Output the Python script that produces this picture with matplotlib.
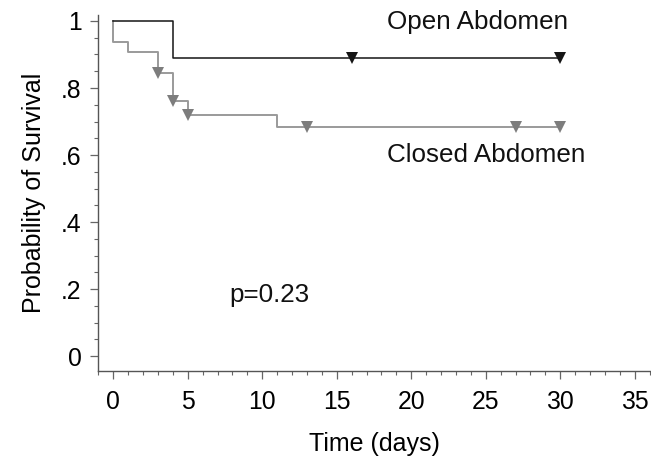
import matplotlib
matplotlib.use("Agg")
import matplotlib.pyplot as plt
from matplotlib.ticker import MultipleLocator, FixedLocator

plt.rcParams['font.family'] = ['Liberation Sans', 'DejaVu Sans']

# Kaplan-Meier step data
open_times = [0, 4, 30]
open_surv = [1.0, 0.889, 0.889]
open_cens_t = [16, 30]
open_cens_s = [0.889, 0.889]

closed_times = [0, 0, 1, 3, 4, 5, 11, 30]
closed_surv = [1.0, 0.938, 0.906, 0.844, 0.760, 0.720, 0.685, 0.685]
closed_cens_t = [3, 4, 5, 13, 27, 30]
closed_cens_s = [0.844, 0.760, 0.720, 0.685, 0.685, 0.685]

x_ticks = [0, 5, 10, 15, 20, 25, 30, 35]
y_ticks = [0, 0.2, 0.4, 0.6, 0.8, 1.0]
y_labels = ["0", ".2", ".4", ".6", ".8", "1"]

fig = plt.figure(figsize=(6.51, 4.63), dpi=100)
ax = fig.add_axes([0.151, 0.199, 0.847, 0.768])

closed_line = "#9a9a9a"
closed_mark = "#7d7d7d"
open_col = "#151515"

ax.step(closed_times, closed_surv, where='post', color=closed_line, lw=1.4, zorder=2)
ax.plot(closed_cens_t, closed_cens_s, linestyle='none', marker='v', ms=8.5,
        color=closed_mark, markeredgewidth=0, zorder=3)
ax.step(open_times, open_surv, where='post', color=open_col, lw=1.1, zorder=4)
ax.plot(open_cens_t, open_cens_s, linestyle='none', marker='v', ms=8.5,
        color=open_col, markeredgewidth=0, zorder=5)

ax.set_xlim(-1, 36)
ax.set_ylim(-0.044, 1.017)

ax.xaxis.set_major_locator(FixedLocator(x_ticks))
ax.xaxis.set_minor_locator(MultipleLocator(1))
ax.yaxis.set_major_locator(FixedLocator(y_ticks))
ax.yaxis.set_minor_locator(MultipleLocator(0.05))
ax.set_xticklabels([str(t) for t in x_ticks])
ax.set_yticklabels(y_labels)

for s in ['top', 'right']:
    ax.spines[s].set_visible(False)
for s in ['left', 'bottom']:
    ax.spines[s].set_color('#555555')
    ax.spines[s].set_linewidth(1.0)

ax.tick_params(which='major', direction='out', length=6, width=0.9, color='#666666',
               labelsize=17.8, pad=6)
ax.tick_params(which='minor', direction='out', length=3, width=0.8, color='#666666')
ax.tick_params(axis='x', which='major', pad=8)

ax.set_xlabel("Time (days)", fontsize=18, labelpad=13)
ax.set_ylabel("Probability of Survival", fontsize=18, labelpad=11)

ax.text(18.4, 0.996, "Open Abdomen", fontsize=18.7, va='center', ha='left', color='#111111')
ax.text(18.4, 0.60, "Closed Abdomen", fontsize=18.7, va='center', ha='left', color='#111111')
ax.text(7.8, 0.182, "p=0.23", fontsize=18.7, va='center', ha='left', color='#111111')

fig.savefig("out.png", dpi=100, facecolor='white')
